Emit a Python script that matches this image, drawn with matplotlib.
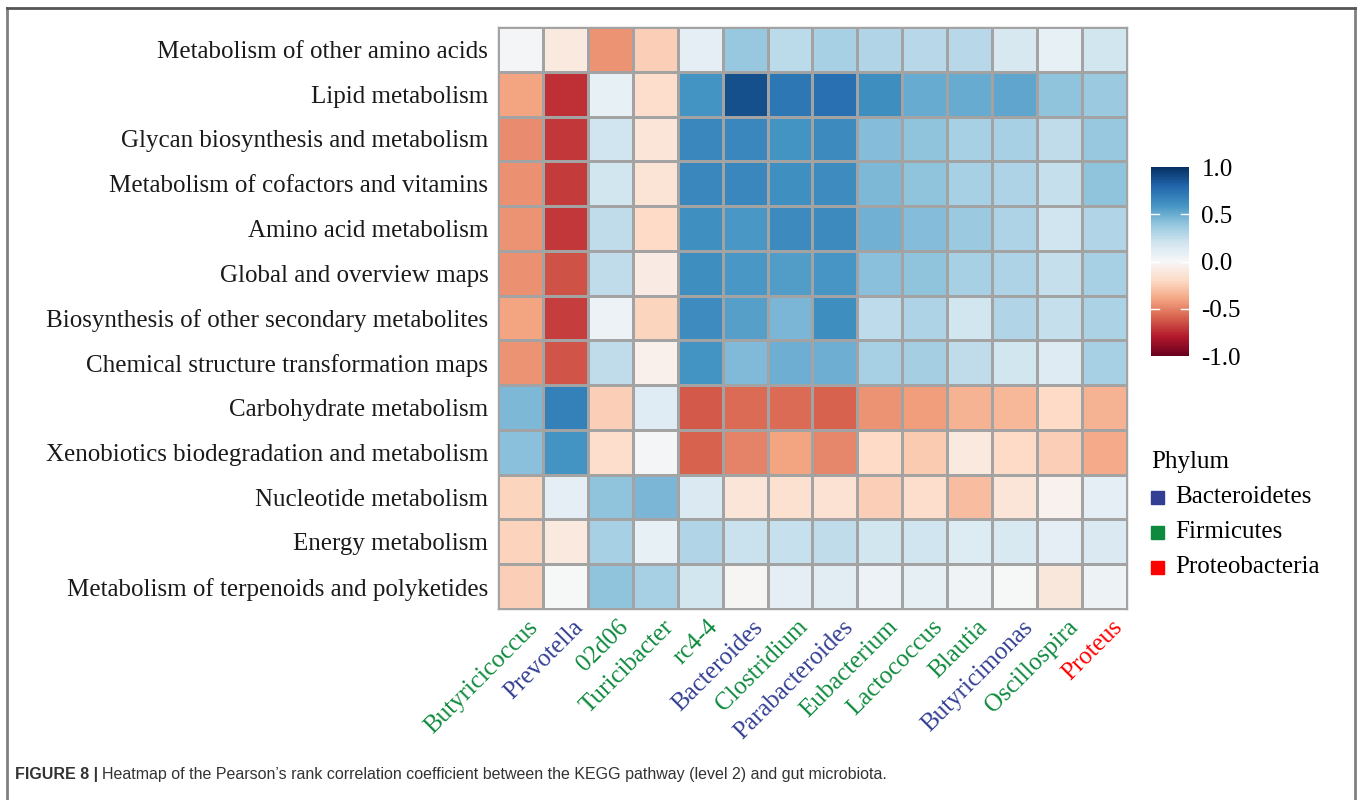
import matplotlib.pyplot as plt
import numpy as np
from matplotlib.patches import Rectangle

PATHWAYS = [
    "Metabolism of other amino acids",
    "Lipid metabolism",
    "Glycan biosynthesis and metabolism",
    "Metabolism of cofactors and vitamins",
    "Amino acid metabolism",
    "Global and overview maps",
    "Biosynthesis of other secondary metabolites",
    "Chemical structure transformation maps",
    "Carbohydrate metabolism",
    "Xenobiotics biodegradation and metabolism",
    "Nucleotide metabolism",
    "Energy metabolism",
    "Metabolism of terpenoids and polyketides",
]

GENERA = [
    "Butyricicoccus", "Prevotella", "02d06", "Turicibacter", "rc4-4",
    "Bacteroides", "Clostridium", "Parabacteroides", "Eubacterium",
    "Lactococcus", "Blautia", "Butyricimonas", "Oscillospira", "Proteus",
]

GENUS_PHYLUM = [
    "Firmicutes", "Bacteroidetes", "Firmicutes", "Firmicutes", "Firmicutes",
    "Bacteroidetes", "Firmicutes", "Bacteroidetes", "Firmicutes",
    "Firmicutes", "Firmicutes", "Bacteroidetes", "Firmicutes", "Proteobacteria",
]

PHYLA = ["Bacteroidetes", "Firmicutes", "Proteobacteria"]
PHYLUM_COLORS = {"Bacteroidetes": "#333f94", "Firmicutes": "#0e8a3e", "Proteobacteria": "#ff0000"}

# Pearson correlation, one row per pathway, one column per genus
CORR = [
    [0.02, -0.10, -0.45, -0.25, 0.10, 0.38, 0.27, 0.33, 0.30, 0.28, 0.28, 0.17, 0.08, 0.19],
    [-0.40, -0.73, 0.08, -0.18, 0.60, 0.88, 0.72, 0.75, 0.62, 0.50, 0.50, 0.53, 0.40, 0.37],
    [-0.47, -0.71, 0.20, -0.13, 0.65, 0.65, 0.60, 0.64, 0.43, 0.40, 0.33, 0.33, 0.25, 0.38],
    [-0.46, -0.70, 0.19, -0.14, 0.65, 0.65, 0.61, 0.63, 0.45, 0.40, 0.33, 0.31, 0.24, 0.40],
    [-0.45, -0.71, 0.25, -0.20, 0.61, 0.58, 0.64, 0.64, 0.48, 0.43, 0.37, 0.31, 0.20, 0.30],
    [-0.46, -0.64, 0.25, -0.08, 0.62, 0.58, 0.56, 0.59, 0.42, 0.40, 0.33, 0.31, 0.24, 0.33],
    [-0.40, -0.69, 0.06, -0.22, 0.63, 0.55, 0.46, 0.62, 0.26, 0.31, 0.19, 0.30, 0.24, 0.32],
    [-0.45, -0.63, 0.25, -0.05, 0.60, 0.44, 0.49, 0.49, 0.33, 0.34, 0.25, 0.19, 0.13, 0.33],
    [0.45, 0.68, -0.25, 0.12, -0.61, -0.57, -0.57, -0.59, -0.45, -0.42, -0.35, -0.33, -0.20, -0.35],
    [0.42, 0.60, -0.18, 0.02, -0.59, -0.50, -0.40, -0.49, -0.20, -0.26, -0.10, -0.20, -0.25, -0.38],
    [-0.22, 0.10, 0.40, 0.46, 0.15, -0.13, -0.16, -0.15, -0.25, -0.18, -0.31, -0.13, -0.04, 0.10],
    [-0.23, -0.10, 0.33, 0.08, 0.30, 0.22, 0.23, 0.25, 0.19, 0.20, 0.14, 0.16, 0.10, 0.15],
    [-0.25, 0.00, 0.40, 0.33, 0.19, -0.01, 0.10, 0.11, 0.06, 0.09, 0.04, 0.00, -0.11, 0.05],
]

CBAR_TICKS = [-1.0, -0.5, 0.0, 0.5, 1.0]

SERIF = ["Liberation Serif", "DejaVu Serif"]
FS = 18


def main() -> None:
    W, H = 1358, 800
    fig = plt.figure(figsize=(W / 100, H / 100), dpi=100)

    def box(x0, y0, x1, y1):
        return [x0 / W, 1 - y1 / H, (x1 - x0) / W, (y1 - y0) / H]

    # open frame around the panel
    frame_kw = dict(transform=fig.transFigure, color="#808080", lw=2)
    fig.add_artist(plt.Line2D([7 / W, 7 / W], [0, 1 - 8 / H], **frame_kw))
    fig.add_artist(plt.Line2D([1355 / W, 1355 / W], [0, 1 - 8 / H], **frame_kw))
    fig.add_artist(plt.Line2D([7 / W, 1355 / W], [1 - 8 / H, 1 - 8 / H],
                              transform=fig.transFigure, color="#555555", lw=2))

    matrix = np.array(CORR)
    ax = fig.add_axes(box(498, 27, 1127, 609))
    mesh = ax.pcolormesh(matrix, cmap="RdBu", vmin=-1, vmax=1,
                         edgecolors="#a3a3a3", linewidth=0.8)
    ax.set_xlim(0, len(GENERA))
    ax.set_ylim(len(PATHWAYS), 0)
    for spine in ax.spines.values():
        spine.set_color("#a3a3a3")
        spine.set_linewidth(1.0)

    ax.set_yticks(np.arange(len(PATHWAYS)) + 0.5)
    ax.set_yticklabels(PATHWAYS, family=SERIF, fontsize=FS, color="#1a1a1a")
    ax.set_xticks(np.arange(len(GENERA)) + 0.65)
    ax.set_xticklabels(GENERA, family=SERIF, fontsize=FS, rotation=45,
                       ha="right", va="top", rotation_mode="anchor")
    for label, phylum in zip(ax.get_xticklabels(), GENUS_PHYLUM):
        label.set_color(PHYLUM_COLORS[phylum])
    ax.tick_params(axis="y", length=0, pad=7)
    ax.tick_params(axis="x", length=0, pad=5)

    # colour bar
    cax = fig.add_axes(box(1151, 167, 1189, 356))
    cbar = fig.colorbar(mesh, cax=cax, ticks=CBAR_TICKS)
    cbar.outline.set_visible(False)
    cbar.ax.set_yticklabels([f"{t:.1f}" for t in CBAR_TICKS], family=SERIF, fontsize=FS)
    cbar.ax.tick_params(length=0, pad=9)
    for t in CBAR_TICKS[1:-1]:
        cax.plot([0, 0.2], [t, t], color="white", lw=1, transform=cax.get_yaxis_transform())
        cax.plot([0.8, 1], [t, t], color="white", lw=1, transform=cax.get_yaxis_transform())

    # phylum legend
    fig.text(1151 / W, 1 - 462 / H, "Phylum", family=SERIF, fontsize=FS,
             ha="left", va="center")
    for i, phylum in enumerate(PHYLA):
        yc = 497 + 35 * i
        fig.add_artist(Rectangle((1151 / W, 1 - (yc + 6.5) / H), 13 / W, 13 / H,
                                 transform=fig.transFigure, color=PHYLUM_COLORS[phylum]))
        fig.text(1175 / W, 1 - yc / H, phylum, family=SERIF, fontsize=FS,
                 ha="left", va="center")

    # caption
    cap_font = ["Liberation Sans Narrow", "Liberation Sans", "DejaVu Sans"]
    t1 = fig.text(15 / W, 1 - 775 / H, "FIGURE 8 |", family=cap_font, fontsize=11.5,
                  fontweight="bold", color="#333333", ha="left", va="center")
    fig.canvas.draw()
    bb = t1.get_window_extent()
    fig.text((bb.x1 + 4) / W, 1 - 775 / H,
             "Heatmap of the Pearson\u2019s rank correlation coefficient between the KEGG pathway "
             "(level 2) and gut microbiota.",
             family=cap_font, fontsize=11.5, color="#333333", ha="left", va="center")

    fig.savefig("out.png", dpi=100)
    plt.close(fig)


if __name__ == "__main__":
    main()
